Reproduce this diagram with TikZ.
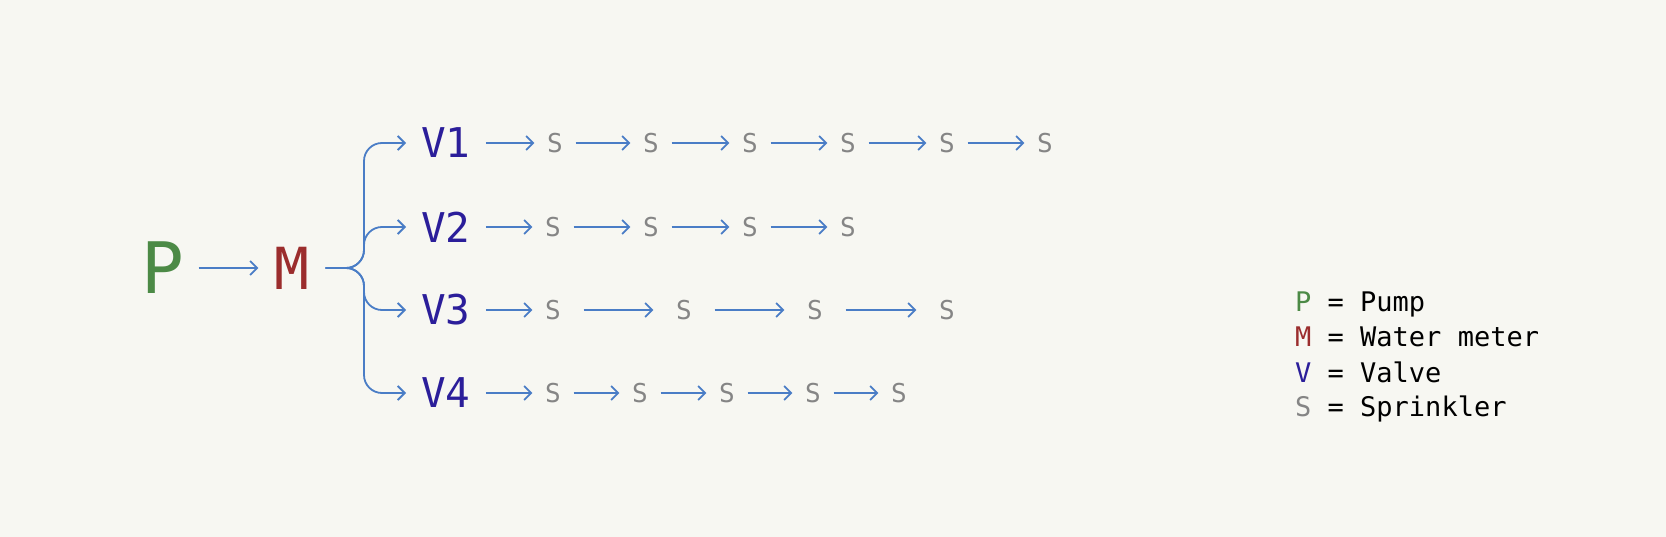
\documentclass[tikz,border=0pt]{standalone}
\usepackage{fontspec}
\setmonofont{DejaVu Sans Mono}
\usepackage{tikz}
\usetikzlibrary{arrows.meta, positioning}
\definecolor{paper}{HTML}{F7F7F2}
\definecolor{pipeblue}{HTML}{4A7DC6}
\definecolor{pumpgreen}{HTML}{4C8A46}
\definecolor{meterred}{HTML}{9B2D2D}
\definecolor{valveblue}{HTML}{2B1E9A}
\definecolor{sprgray}{HTML}{858585}

\begin{document}
\begin{tikzpicture}[
            x=1pt, y=-1pt,
            every node/.style={font=\ttfamily, inner ysep=0pt},
            pipe/.style={draw=pipeblue, line width=1.8pt, -{Straight Barb[length=7pt,width=14pt]}},
            branch/.style={pipe, rounded corners=18pt},
            longgap/.style={shorten <=10pt, shorten >=10pt},
            pump/.style={text=pumpgreen, inner xsep=14pt, font=\ttfamily\fontsize{71pt}{71pt}\selectfont},
            meter/.style={text=meterred, inner xsep=16pt, font=\ttfamily\fontsize{58pt}{58pt}\selectfont},
            valve/.style={text=valveblue, anchor=west, inner xsep=15pt, font=\ttfamily\fontsize{41pt}{41pt}\selectfont},
            sprinkler/.style={text=sprgray, inner xsep=12.5pt, font=\ttfamily\fontsize{26pt}{26pt}\selectfont},
            key/.style={anchor=base west, inner sep=0pt, font=\ttfamily\fontsize{27pt}{35pt}\selectfont}
        ]
            \fill[paper] (0,0) rectangle (1666,537);
            \useasboundingbox (0,0) rectangle (1666,537);

            % pump and meter
            \node[pump] (P) at (163,268) {P};
            \node[meter] (M) at (292,268) {M};
            \draw[pipe] (P) -- (M);

            % valves
            \coordinate (bus) at (364,268);
            \node[valve] (V1) at (406,143) {V1};
            \node[valve] (V2) at (406,227) {V2};
            \node[valve] (V3) at (406,310) {V3};
            \node[valve] (V4) at (406,393) {V4};
            \foreach \v in {V1,V2,V3,V4}
                \draw[branch] (M.east) -| (bus |- \v.west) -- (\v.west);

            % sprinklers, one row per valve
            \foreach \x [count=\i] in {555,651,750,848,947,1045}
                \node[sprinkler] (s1\i) at (\x,143) {S};
            \foreach \x [count=\i] in {553,651,750,848}
                \node[sprinkler] (s2\i) at (\x,227) {S};
            \foreach \x [count=\i] in {553,684,815,947}
                \node[sprinkler] (s3\i) at (\x,310) {S};
            \foreach \x [count=\i] in {553,640,727,813,899}
                \node[sprinkler] (s4\i) at (\x,393) {S};

            \draw[pipe] (V1) -- (s11);
            \draw[pipe] (V2) -- (s21);
            \draw[pipe] (V3) -- (s31);
            \draw[pipe] (V4) -- (s41);
            \foreach \j [count=\i] in {2,...,6}
                \draw[pipe] (s1\i) -- (s1\j);
            \foreach \j [count=\i] in {2,...,4}
                \draw[pipe] (s2\i) -- (s2\j);
            \foreach \j [count=\i] in {2,...,4}
                \draw[pipe, longgap] (s3\i) -- (s3\j);
            \foreach \j [count=\i] in {2,...,5}
                \draw[pipe] (s4\i) -- (s4\j);

            % legend
            \node[key] (keyP) at (1295,312) {\textcolor{pumpgreen}{P} = Pump};
            \node[key] (keyM) at (1295,347) {\textcolor{meterred}{M} = Water meter};
            \node[key] (keyV) at (1295,382) {\textcolor{valveblue}{V} = Valve};
            \node[key] (keyS) at (1295,417) {\textcolor{sprgray}{S} = Sprinkler};
        \end{tikzpicture}
\end{document}
